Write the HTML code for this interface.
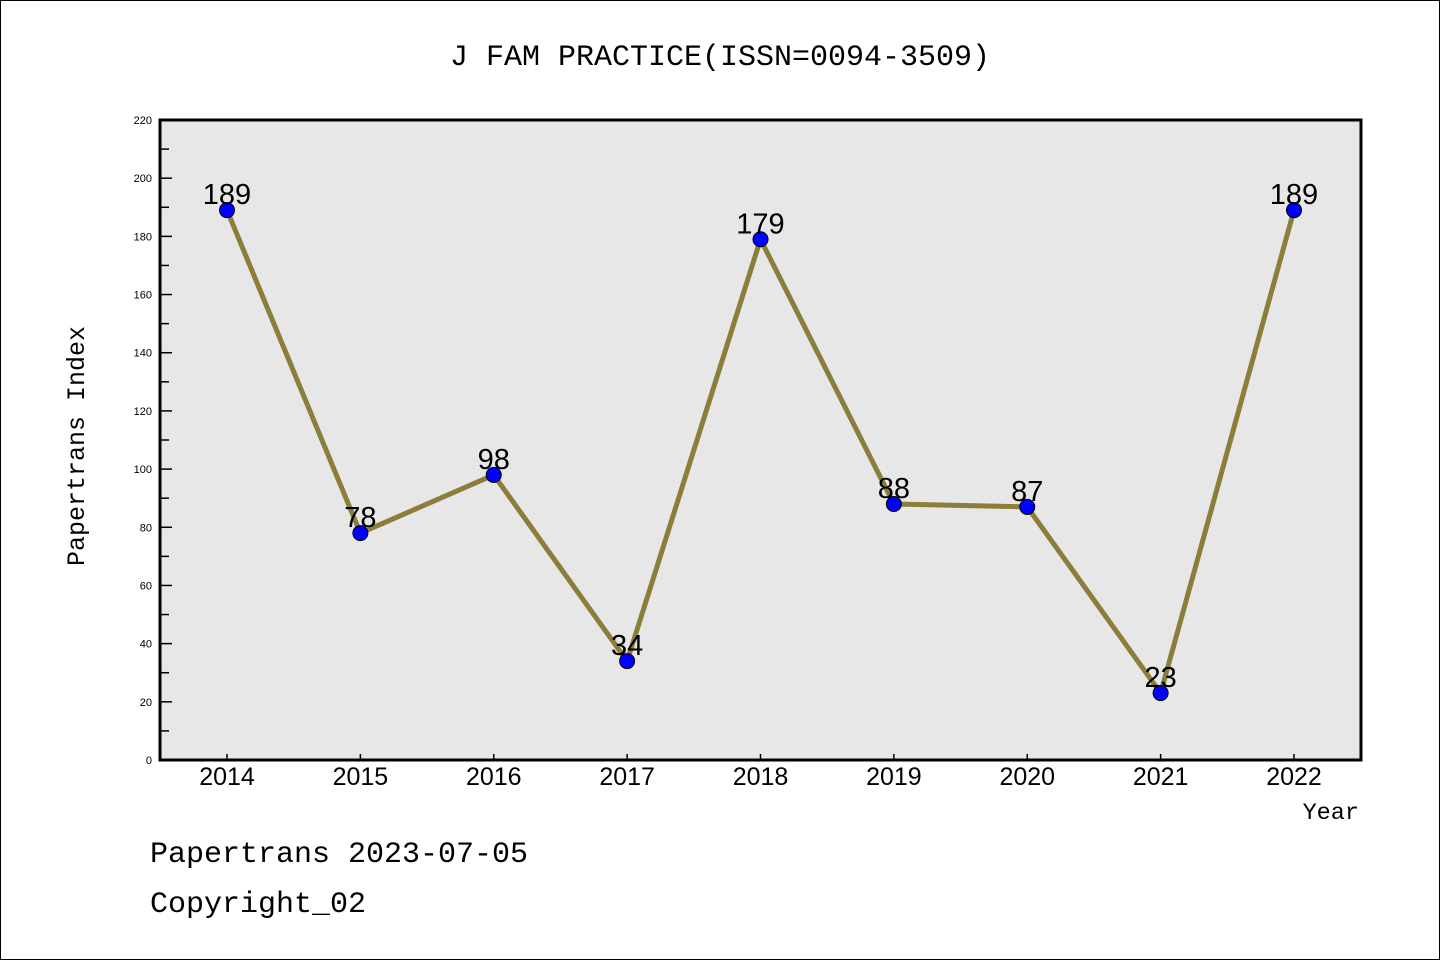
<!DOCTYPE html>
<html><head><meta charset="utf-8"><style>
html,body{margin:0;padding:0;background:#fff}
svg{display:block}
text{font-family:"Liberation Sans",sans-serif}
.mono{font-family:"Liberation Mono","DejaVu Sans Mono",monospace}
</style></head><body>
<svg id="chart" width="1440" height="960" xmlns="http://www.w3.org/2000/svg">
<rect x="0.5" y="0.5" width="1439" height="959" fill="#fff" stroke="#000"/>
<text class="mono" x="720" y="65" font-size="30" text-anchor="middle">J FAM PRACTICE(ISSN=0094-3509)</text>
<rect x="160" y="120" width="1201" height="640" fill="#e7e7e7"/>
<g id="yaxis"></g>
<g id="xaxis"></g>
<g id="series"></g>
<rect x="160" y="120" width="1201" height="640" fill="none" stroke="#000" stroke-width="3"/>
<text class="mono" transform="translate(84,446) rotate(-90)" font-size="25" text-anchor="middle">Papertrans Index</text>
<text class="mono" x="1359" y="819" font-size="23.5" text-anchor="end">Year</text>
<text class="mono" x="150" y="862" font-size="30">Papertrans 2023-07-05</text>
<text class="mono" x="150" y="912" font-size="30">Copyright_02</text>
</svg>
<script>
const years = ["2014","2015","2016","2017","2018","2019","2020","2021","2022"];
const values = [189,78,98,34,179,88,87,23,189];
const yTicks = [0,20,40,60,80,100,120,140,160,180,200,220];
const NS="http://www.w3.org/2000/svg";
const x0=227,x1=1294,yb=760,yt=120,ymax=220;
function xs(i){return x0+(x1-x0)*i/(years.length-1);}
function ys(v){return yb-(yb-yt)*v/ymax;}
function mk(tag,attrs,parent){const e=document.createElementNS(NS,tag);for(const k in attrs)e.setAttribute(k,attrs[k]);parent.appendChild(e);return e;}
const ya=document.getElementById('yaxis'),xa=document.getElementById('xaxis'),se=document.getElementById('series');
for(let v=10;v<ymax;v+=20){
  const t=mk('line',{x1:160,x2:169,y1:ys(v),y2:ys(v),stroke:'#000','stroke-width':1.5},ya);
  
  
}
yTicks.forEach(v=>{
  const t=mk('line',{x1:160,x2:172,y1:ys(v),y2:ys(v),stroke:'#000','stroke-width':1.5},ya);
  
  
  const l=mk('text',{x:152,y:ys(v)+4,'font-size':11,'text-anchor':'end'},ya);
  l.textContent=v;
  
  
});
years.forEach((y,i)=>{
  const t=mk('line',{x1:xs(i),x2:xs(i),y1:760,y2:754,stroke:'#000','stroke-width':1.5},xa);
  
  
  const l=mk('text',{x:xs(i),y:785,'font-size':25,'text-anchor':'middle'},xa);
  l.textContent=y;
  
  
});
const pl=mk('polyline',{points:values.map((v,i)=>xs(i)+','+ys(v)).join(' '),fill:'none',stroke:'#8b7d3a','stroke-width':5,'stroke-linejoin':'round'},se);


values.forEach((v,i)=>{
  const c=mk('circle',{cx:xs(i),cy:ys(v),r:7.5,fill:'#0000ff',stroke:'#000','stroke-width':1},se);
  
  
  const l=mk('text',{x:xs(i),y:ys(v)-6,'font-size':29,'text-anchor':'middle'},se);
  l.textContent=v;
  
  
});
</script>
</body></html>
